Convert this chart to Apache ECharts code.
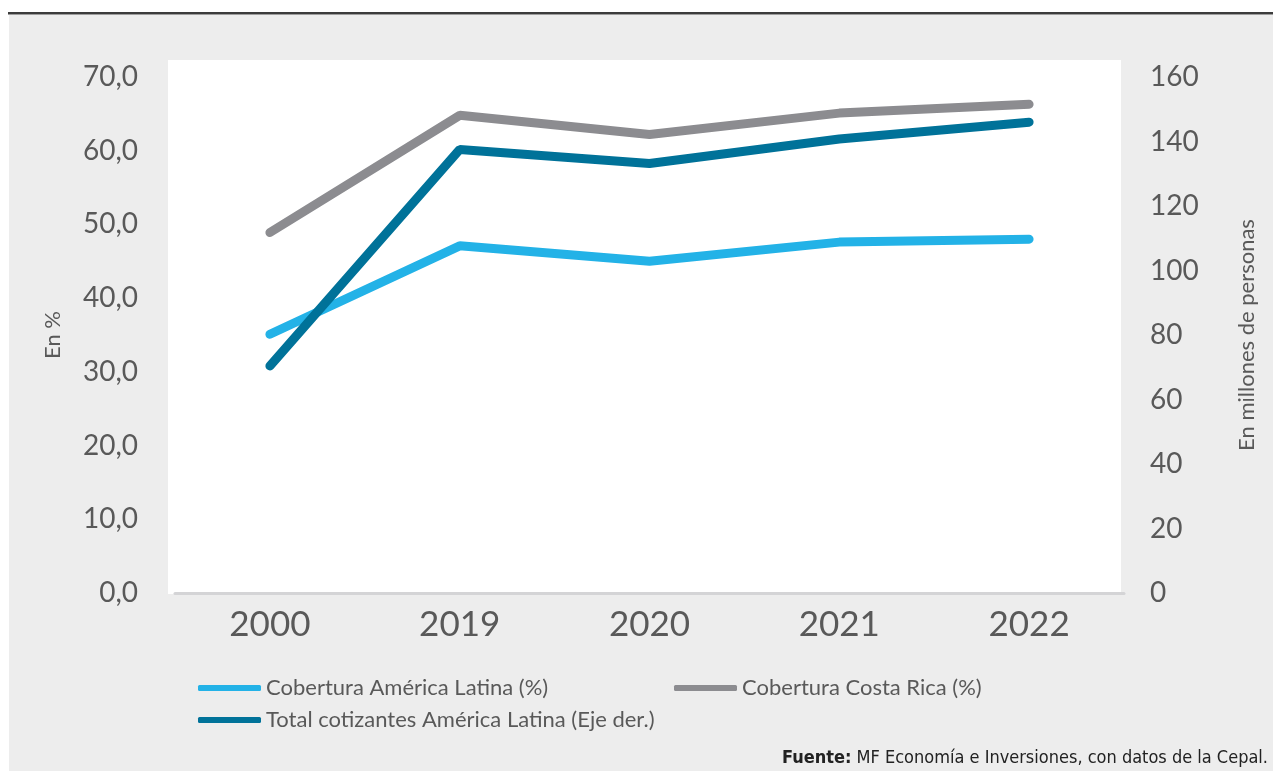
<!DOCTYPE html>
<html><head><meta charset="utf-8">
<script src="https://cdn.jsdelivr.net/npm/echarts@6/dist/echarts.min.js"></script>
<style>html,body{margin:0;padding:0;background:#fff;}#c{width:1273px;height:771px;}</style>
</head><body><div id="c"></div>
<script>
var years = ['2000','2019','2020','2021','2022'];
var coberturaAL = [35.1, 47.1, 45.0, 47.6, 48.0];
var coberturaCR = [48.9, 64.8, 62.2, 65.1, 66.3];
var cotizantesAL = [70.4, 137.5, 133.2, 140.8, 146.0];
var leftTicks = {min:0, max:70, interval:10};
var rightTicks = {min:0, max:160, interval:20};
var names = ['Cobertura América Latina (%)','Cobertura Costa Rica (%)','Total cotizantes América Latina (Eje der.)'];
var colors = ['#23B2E7','#8C8C90','#007299'];

var FONT = 'Lato';
var NARROW = "'Liberation Sans Narrow','DejaVu Sans Condensed','Roboto',sans-serif";
var TXT = '#595959';
var chart = echarts.init(document.getElementById('c'), null, {renderer:'canvas'});
function legend(idx, left, top){
  return {show:true, data:[names[idx]], left:left, top:top, icon:'roundRect', itemWidth:63, itemHeight:6,
    itemGap:0, textStyle:{fontFamily:FONT, fontSize:22, color:TXT, padding:[0,0,0,0]}, selectedMode:false};
}
chart.setOption({
  backgroundColor:'#fff',
  animation:false,
  graphic:[
    {type:'rect', shape:{x:9, y:15, width:1264, height:756}, style:{fill:'#EDEDED'}, z:-10, silent:true},
    {type:'rect', shape:{x:8, y:12, width:1265, height:2.5}, style:{fill:'#3C3C3C'}, z:-9, silent:true},
    {type:'rect', shape:{x:168, y:60, width:953, height:534}, style:{fill:'#FFFFFF'}, z:-8, silent:true},
    {type:'text', right:5, top:749, style:{rich:{b:{fontFamily:NARROW, fontWeight:'bold', fontSize:18, fill:'#222'}, n:{fontFamily:NARROW, fontSize:18, fill:'#222'}}, text:'{b|Fuente:}{n| MF Economía e Inversiones, con datos de la Cepal.}'}}
  ],
  legend:[legend(0,193,672), legend(1,669,672), legend(2,193,704)],
  grid:{left:175, right:149, top:77, bottom:178, containLabel:false},
  xAxis:{type:'category', data:years, boundaryGap:true,
    axisLine:{show:true, lineStyle:{color:'#D4D4D6', width:3}},
    axisTick:{show:false},
    axisLabel:{fontFamily:FONT, fontSize:35, color:TXT, margin:14}},
  yAxis:[
    {type:'value', min:leftTicks.min, max:leftTicks.max, interval:leftTicks.interval, position:'left',
     splitLine:{show:false}, axisLine:{show:false}, axisTick:{show:false},
     axisLabel:{fontFamily:FONT, fontSize:28, color:TXT, margin:37, formatter:function(v){return v.toFixed(1).replace('.',',');}},
     name:'En %', nameLocation:'middle', nameGap:111, nameTextStyle:{fontFamily:FONT, fontSize:22, color:TXT}},
    {type:'value', min:rightTicks.min, max:rightTicks.max, interval:rightTicks.interval, position:'right',
     splitLine:{show:false}, axisLine:{show:false}, axisTick:{show:false},
     axisLabel:{fontFamily:FONT, fontSize:28, color:TXT, margin:26},
     name:'En millones de personas', nameLocation:'middle', nameGap:112, nameTextStyle:{fontFamily:FONT, fontSize:22, color:TXT}}
  ],
  series:[
    {name:names[0], type:'line', data:coberturaAL, yAxisIndex:0, symbol:'none', color:colors[0], lineStyle:{width:9, cap:'round', color:colors[0]}, z:2},
    {name:names[1], type:'line', data:coberturaCR, yAxisIndex:0, symbol:'none', color:colors[1], lineStyle:{width:9, cap:'round', color:colors[1]}, z:2},
    {name:names[2], type:'line', data:cotizantesAL, yAxisIndex:1, symbol:'none', color:colors[2], lineStyle:{width:9, cap:'round', color:colors[2]}, z:3}
  ]
});
</script></body></html>
